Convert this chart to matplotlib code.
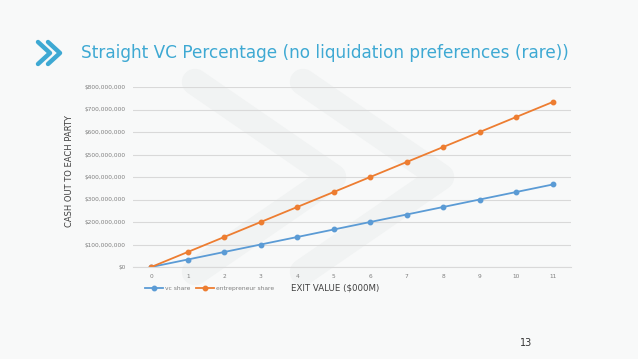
import matplotlib.pyplot as plt
from matplotlib.ticker import FuncFormatter
from matplotlib.lines import Line2D

# exit value (x axis) and cash out to each party ($)
exit_value = [0, 1, 2, 3, 4, 5, 6, 7, 8, 9, 10, 11]
vc_share = [0, 33.3e6, 66.7e6, 100e6, 133.3e6, 166.7e6, 200e6, 233.3e6,
            266.7e6, 300e6, 333.3e6, 366.7e6]
entrepreneur_share = [0, 66.7e6, 133.3e6, 200e6, 266.7e6, 333.3e6, 400e6,
                      466.7e6, 533.3e6, 600e6, 666.7e6, 733.3e6]

blue = "#5b9bd5"
orange = "#ed7d31"
accent = "#3ea9d3"

fig = plt.figure(figsize=(6.38, 3.59), dpi=100)
fig.patch.set_facecolor("#f8f9f9")

W, H = 638, 359
def fx(px):
    return px / W
def fy(py):
    return 1 - py / H

# faint watermark chevrons in the background
for dx in (0, 108):
    fig.add_artist(Line2D([fx(195 + dx), fx(333 + dx), fx(195 + dx)],
                          [fy(82), fy(177), fy(272)], color="#f1f3f3", lw=19,
                          solid_capstyle="round", solid_joinstyle="round", zorder=0))

# chevrons next to the title
for dx in (0, 10):
    fig.add_artist(Line2D([fx(38 + dx), fx(50 + dx), fx(38 + dx)],
                          [fy(42), fy(53), fy(64)], color=accent, lw=3.2,
                          solid_capstyle="round", solid_joinstyle="round"))
fig.text(fx(81), fy(53), "Straight VC Percentage (no liquidation preferences (rare))",
         color=accent, fontsize=12.2, va="center", ha="left")

ax = fig.add_axes([fx(133), fy(267), fx(571) - fx(133), fy(87) - fy(267)])
ax.set_facecolor("none")
ax.plot(exit_value, vc_share, color=blue, lw=1.3, marker="o", ms=3.2, label="vc share")
ax.plot(exit_value, entrepreneur_share, color=orange, lw=1.3, marker="o", ms=3.2,
        label="entrepreneur share")

ax.set_xlim(-0.5, 11.5)
ax.set_ylim(0, 800e6)
ax.set_xticks(exit_value)
ax.set_yticks([i * 100e6 for i in range(9)])
ax.yaxis.set_major_formatter(FuncFormatter(lambda v, p: "${:,.0f}".format(v)))
ax.grid(axis="y", color="#d9d9d9", lw=0.8)
ax.set_axisbelow(True)
for s in ("top", "right", "left"):
    ax.spines[s].set_visible(False)
ax.spines["bottom"].set_color("#d9d9d9")
ax.tick_params(length=0, labelsize=4.2, labelcolor="#7f7f7f")
ax.tick_params(axis="y", pad=5)
ax.tick_params(axis="x", pad=5)

fig.text(fx(69), fy(171), "CASH OUT TO EACH PARTY", rotation=90, fontsize=6,
         color="#404040", va="center", ha="center")
fig.text(fx(335), fy(288), "EXIT VALUE ($000M)", fontsize=6.2, color="#404040",
         va="center", ha="center")

ax.legend(loc="center left", bbox_to_anchor=(fx(140), fy(288)),
          bbox_transform=fig.transFigure, ncol=2, frameon=False, fontsize=4.3,
          labelcolor="#7f7f7f", handlelength=3, columnspacing=1.0, handletextpad=0.3)

fig.text(fx(526), fy(343), "13", fontsize=7, color="#333333", ha="center", va="center")

fig.savefig("out.png", dpi=100, facecolor=fig.get_facecolor())
